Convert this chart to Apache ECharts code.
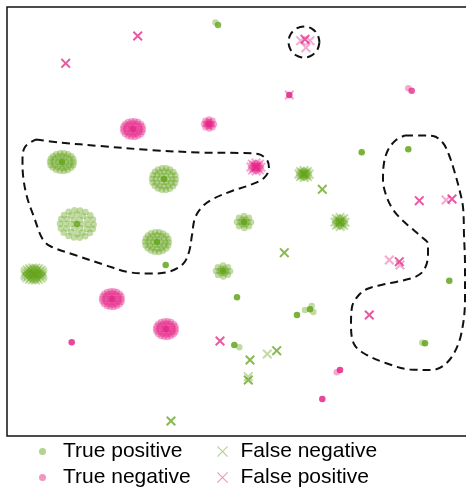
<!DOCTYPE html>
<html>
<head>
<meta charset="utf-8">
<script src="https://cdn.jsdelivr.net/npm/echarts@6/dist/echarts.min.js"></script>
<style>
  html, body { margin: 0; padding: 0; background: #fff; }
  #chart { width: 466px; height: 488px; }
</style>
</head>
<body>
<div id="chart"></div>
<script>
// Embedding coordinates: x to the right, y downward (the y axis is inverted).

// Offsets of the samples inside a cluster, relative to its centre (unit radius).
const blobOffsets = [
  [0, 0],
  [0.35, 0.02], [0.18, 0.3], [-0.16, 0.31], [-0.34, 0], [-0.18, -0.29], [0.16, -0.31],
  [0.68, 0.03], [0.6, 0.35], [0.33, 0.6], [0.02, 0.69], [-0.35, 0.58], [-0.6, 0.33],
  [-0.67, -0.02], [-0.58, -0.36], [-0.33, -0.6], [0.01, -0.68], [0.35, -0.58], [0.6, -0.33],
  [0.98, 0.03], [0.93, 0.36], [0.76, 0.65], [0.48, 0.88], [0.16, 0.99], [-0.18, 0.97],
  [-0.5, 0.86], [-0.78, 0.62], [-0.95, 0.32], [-1, -0.02], [-0.93, -0.36], [-0.76, -0.65],
  [-0.49, -0.87], [-0.15, -0.98], [0.18, -0.97], [0.5, -0.86], [0.78, -0.63], [0.94, -0.33]
];
const smallOffsets = [
  [0, 0],
  [0.5, 0], [0.25, 0.43], [-0.25, 0.43], [-0.5, 0], [-0.25, -0.43], [0.25, -0.43],
  [1, 0.05], [0.7, 0.7], [0.05, 1], [-0.7, 0.72], [-1, 0], [-0.72, -0.7], [0, -1], [0.7, -0.7]
];

// Clusters: [centre x, centre y, spread x, spread y, offset set]
const truePositiveClusters = [
  [62, 162, 12, 9, 'blob'],
  [164, 179, 12, 11, 'blob'],
  [77, 224, 17, 14, 'blob'],
  [157, 242, 12, 10, 'blob'],
  [223, 271, 7, 5.5, 'small'],
  [244, 222, 7, 6, 'small']
];
// Isolated samples: [x, y, number of coincident samples]
const truePositivePoints = [
  [218, 25, 3], [215.5, 22.5, 1],
  [361.7, 152.3, 4], [408.3, 149.3, 4], [165.7, 265, 4],
  [237, 297.3, 4], [297, 315, 4],
  [310, 309.3, 4], [305, 310, 1], [311.7, 306, 1], [313.3, 312, 1],
  [234.3, 345, 4], [239.3, 347.3, 1],
  [425, 343.3, 4], [422.3, 342.7, 1],
  [449.3, 280.7, 4]
];

const trueNegativeClusters = [
  [133, 129, 10, 8, 'blob'],
  [209, 124, 5, 4.5, 'small'],
  [112, 299, 10, 8, 'blob'],
  [166, 329, 10, 8, 'blob']
];
const trueNegativePoints = [
  [289.3, 95, 4],
  [408.3, 88.3, 1], [411.7, 90.7, 3],
  [71.7, 342.3, 4],
  [340, 370, 4], [336.7, 372.3, 1],
  [322.3, 399, 4]
];

const falseNegativeClusters = [
  [34, 274, 9, 6, 'blob'],
  [304, 174, 5, 3.5, 'small'],
  [340, 222, 5, 4.5, 'small']
];
const falseNegativePoints = [
  [322.3, 189.3, 3], [284.3, 252.7, 3], [171, 421, 3], [250, 360, 3],
  [267.3, 354, 1], [276.7, 350.7, 3],
  [248.3, 380, 3], [248.3, 376.7, 1]
];

const falsePositiveClusters = [
  [256, 167, 5, 4, 'small']
];
const falsePositivePoints = [
  [137.7, 36, 3], [65.7, 63.3, 3],
  [305, 39.3, 3], [300.7, 40.7, 1], [310, 40.7, 1], [306, 47.7, 1],
  [289.3, 95, 1],
  [419.3, 200.7, 3], [446, 200, 1], [452, 199, 3],
  [389.3, 260, 1], [399.3, 261.7, 3], [400, 265, 1],
  [220, 341, 3], [369.3, 315, 3]
];

// Outlined regions (closed loops)
const regionLeft = [
  [36, 139.5], [60, 142.5], [100, 146], [150, 150], [200, 152.5], [240, 153], [258, 154],
  [267, 160], [269, 168], [264, 178], [250, 185], [232, 191], [213, 199], [202, 207],
  [195, 218], [192, 235], [189, 252], [183, 264], [168, 272], [150, 273.5], [128, 272],
  [105, 265], [75, 255], [50, 246], [42, 238], [34, 217], [27, 197], [23, 175],
  [22.5, 160], [25, 147], [36, 139.5]
];
const regionRight = [
  [405, 135.5], [420, 135.5], [433, 136], [443, 143], [449, 155], [454, 170], [459, 188],
  [463, 207], [464, 235], [465, 265], [465, 300], [461, 335], [453, 355], [443, 366],
  [432, 370], [410, 369.5], [387, 363.5], [365, 354], [354, 344], [351, 325], [352, 307],
  [358, 296], [367, 289], [383, 284.5], [398, 281.5], [415, 277], [424, 270], [428, 255],
  [428, 244], [421, 236.5], [410, 227], [400, 218], [392, 208], [386, 195], [383, 180],
  [384, 163], [388, 150], [396, 140], [405, 135.5]
];
const regionTop = [
  [319.5, 42], [317.4, 49.75], [311.75, 55.4], [304, 57.5], [296.25, 55.4], [290.6, 49.75],
  [288.5, 42], [290.6, 34.25], [296.25, 28.6], [304, 26.5], [311.75, 28.6], [317.4, 34.25],
  [319.5, 42]
];

const GREEN = '#66a61e';
const PINK = '#e7298a';
const FONT = '"Liberation Sans", Arial, Helvetica, sans-serif';
const CROSS = 'path://M0,1.4L1.4,0L5,3.6L8.6,0L10,1.4L6.4,5L10,8.6L8.6,10L5,6.4L1.4,10L0,8.6L3.6,5Z';
const CROSS_THIN = 'path://M0,0.7L0.7,0L5,4.3L9.3,0L10,0.7L5.7,5L10,9.3L9.3,10L5,5.7L0.7,10L0,9.3L4.3,5Z';

function samples(clusters, points) {
  const out = [];
  clusters.forEach(([cx, cy, sx, sy, kind]) => {
    const offs = kind === 'small' ? smallOffsets : blobOffsets;
    offs.forEach(([u, v], i) => out.push([cx + u * sx, cy + v * sy, i === 0 ? 4 : 1]));
  });
  points.forEach(p => out.push(p));
  // coincident samples stack up their transparency
  return out.map(([x, y, n]) => ({ value: [x, y], itemStyle: { opacity: 1 - Math.pow(0.6, n) } }));
}

function outline(data) {
  return {
    type: 'line', data: data, smooth: 0.35, symbol: 'none', silent: true, z: 3,
    lineStyle: { color: '#111', width: 2, type: [8, 5] }
  };
}

const chart = echarts.init(document.getElementById('chart'), null, { renderer: 'canvas' });
chart.setOption({
  animation: false,
  backgroundColor: '#fff',
  grid: {
    left: 7, top: 7, width: 475, height: 429, outerBoundsMode: 'none', containLabel: false,
    show: true, borderColor: '#111', borderWidth: 1.5, backgroundColor: 'transparent'
  },
  xAxis: {
    type: 'value', min: 7, max: 482,
    axisLine: { show: false }, axisTick: { show: false }, axisLabel: { show: false }, splitLine: { show: false }
  },
  yAxis: {
    type: 'value', min: 7, max: 436, inverse: true,
    axisLine: { show: false }, axisTick: { show: false }, axisLabel: { show: false }, splitLine: { show: false }
  },
  legend: [
    {
      orient: 'vertical', left: 39, top: 441, padding: 0,
      itemWidth: 31, itemHeight: 7, itemGap: 5, icon: 'circle', selectedMode: false,
      itemStyle: { opacity: 0.5 },
      textStyle: { fontSize: 21, color: '#000', fontFamily: FONT },
      data: ['True positive', 'True negative']
    },
    {
      orient: 'vertical', left: 217, top: 441, padding: 0,
      itemWidth: 26, itemHeight: 11, itemGap: 5, selectedMode: false,
      itemStyle: { opacity: 0.5 },
      textStyle: { fontSize: 21, color: '#000', fontFamily: FONT },
      data: [{ name: 'False negative', icon: CROSS_THIN }, { name: 'False positive', icon: CROSS_THIN }]
    }
  ],
  series: [
    { type: 'scatter', name: 'True positive', symbol: 'circle', symbolSize: 6.5, silent: true,
      itemStyle: { color: GREEN }, data: samples(truePositiveClusters, truePositivePoints) },
    { type: 'scatter', name: 'True negative', symbol: 'circle', symbolSize: 6.5, silent: true,
      itemStyle: { color: PINK }, data: samples(trueNegativeClusters, trueNegativePoints) },
    { type: 'scatter', name: 'False negative', symbol: CROSS, symbolSize: 10, silent: true,
      itemStyle: { color: GREEN }, data: samples(falseNegativeClusters, falseNegativePoints) },
    { type: 'scatter', name: 'False positive', symbol: CROSS, symbolSize: 10, silent: true,
      itemStyle: { color: PINK }, data: samples(falsePositiveClusters, falsePositivePoints) },
    outline(regionLeft),
    outline(regionRight),
    outline(regionTop)
  ]
});
</script>
</body>
</html>
